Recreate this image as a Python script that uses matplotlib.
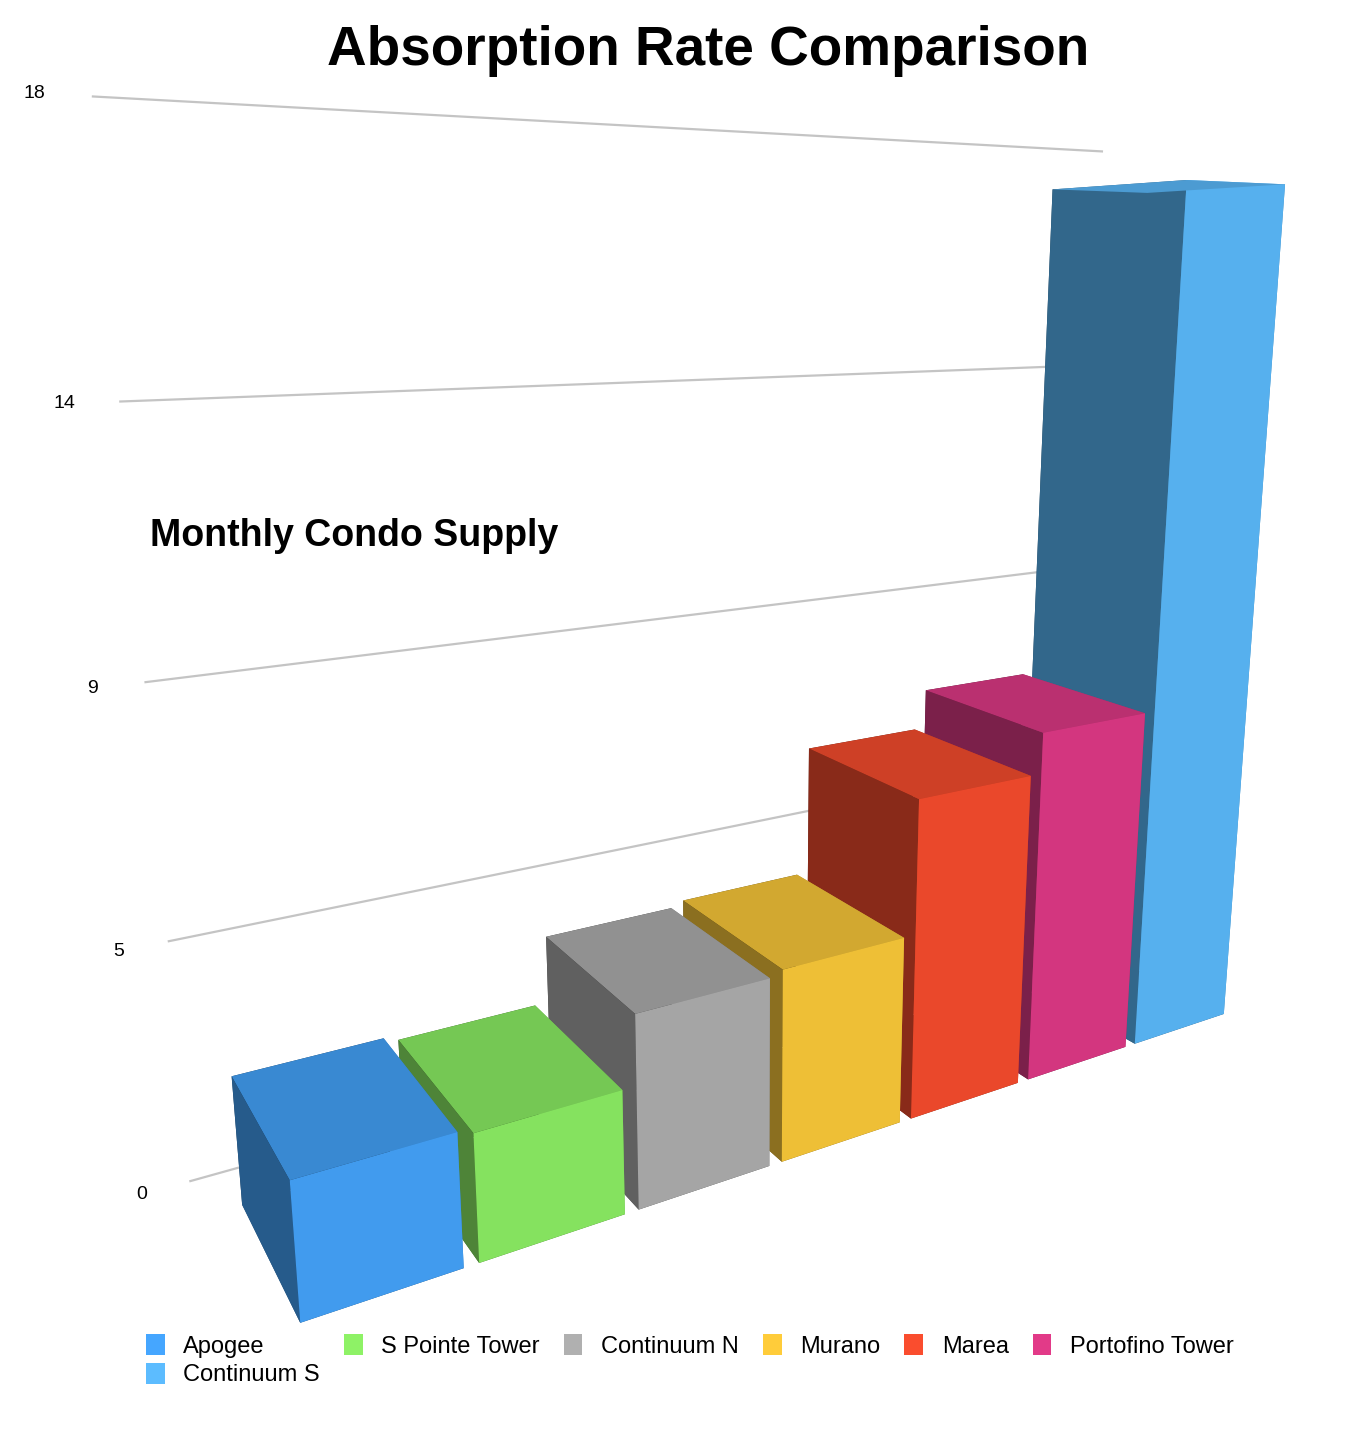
import numpy as np
import matplotlib.pyplot as plt
from matplotlib.colors import LightSource
from matplotlib.patches import Patch

plt.rcParams['font.family'] = ['Liberation Sans', 'DejaVu Sans']

# Data
buildings = ["Apogee", "S Pointe Tower", "Continuum N", "Murano",
             "Marea", "Portofino Tower", "Continuum S"]
supply = [2.4, 2.3, 3.6, 3.7, 6.3, 7.1, 17.1]
colors = ["#45a6ff", "#8ef266", "#b0b0b0", "#ffcc3a", "#fa4d2e", "#e23a88", "#5cbcff"]
ticks = [0, 4.5, 9, 13.5, 18]
tick_labels = ["0", "5", "9", "14", "18"]

fig = plt.figure(figsize=(13.62, 14.48), dpi=100)
ax = fig.add_axes([-0.013, 0.045, 1.1, 1.0], projection='3d')
ax.set_proj_type('persp', focal_length=0.2)
ax.view_init(elev=13, azim=-121)
ax.set_axis_off()
ax.computed_zorder = False

n = len(buildings)
bar_w = 1.3
bar_d = 1.8
pos = np.arange(n) * bar_w * 1.1
wall_y = bar_d + 0.6

# gridlines on the back wall
for t, lab in zip(ticks, tick_labels):
    ax.plot([pos[0] - 0.3, pos[-1] + 1.2], [wall_y, wall_y], [t, t],
            color='#c4c4c4', lw=1.6, zorder=1)
    ax.text(pos[0] - 0.7, wall_y, t, lab, fontsize=14, ha='center', va='center', zorder=1)

ls = LightSource(azdeg=160, altdeg=30)
for i in range(n):
    ax.bar3d(pos[i], 0, 0, bar_w, bar_d, supply[i], color=colors[i],
             shade=True, lightsource=ls, zorder=10 + n - i)

ax.set_xlim(pos[0] - 1.0, pos[-1] + bar_w + 0.5)
ax.set_ylim(0, wall_y)
ax.set_zlim(0, 18)
xr = pos[-1] + bar_w + 1.5
ax.set_box_aspect((xr, wall_y, 9), zoom=1.09)

fig.text(0.52, 0.965, "Absorption Rate Comparison", fontsize=39.5, fontweight='bold',
         ha='center', va='center')
fig.text(0.11, 0.63, "Monthly Condo Supply", fontsize=27, fontweight='bold',
         ha='left', va='center')

handles = [Patch(facecolor=c, edgecolor='none') for c in colors]
order = [0, 6, 1, 2, 3, 4, 5]
fig.legend([handles[i] for i in order], [buildings[i] for i in order],
           loc='upper left', bbox_to_anchor=(0.1, 0.085), ncol=6, frameon=False,
           fontsize=17, handlelength=0.8, handleheight=1.0, handletextpad=0.8,
           columnspacing=1.0, labelspacing=0.2, borderaxespad=0)

fig.savefig("out.png", dpi=100)
